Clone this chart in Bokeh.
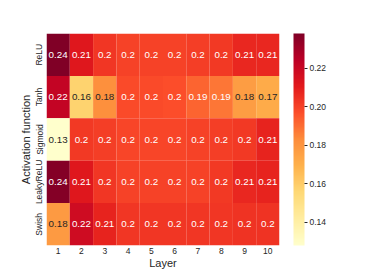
import numpy as np
from bokeh.plotting import figure
from bokeh.models import ColumnDataSource, LinearColorMapper, ColorBar, FixedTicker, PrintfTickFormatter, FactorRange
from bokeh.transform import transform
from bokeh.core.properties import value
from bokeh.embed import file_html
from bokeh.resources import INLINE

layers = ["1", "2", "3", "4", "5", "6", "7", "8", "9", "10"]
activations = ["ReLU", "Tanh", "Sigmoid", "LeakyReLU", "Swish"]
relu = [0.238, 0.212, 0.203, 0.200, 0.200, 0.200, 0.201, 0.202, 0.207, 0.207]
tanh = [0.222, 0.158, 0.182, 0.198, 0.198, 0.197, 0.192, 0.188, 0.177, 0.172]
sigmoid = [0.128, 0.202, 0.201, 0.199, 0.199, 0.199, 0.200, 0.201, 0.202, 0.208]
leaky_relu = [0.237, 0.212, 0.203, 0.200, 0.200, 0.200, 0.200, 0.202, 0.207, 0.208]
swish = [0.178, 0.218, 0.208, 0.203, 0.203, 0.203, 0.203, 0.203, 0.204, 0.204]
cbar_ticks = [0.14, 0.16, 0.18, 0.20, 0.22]
vmin, vmax = 0.128, 0.238

rows = [relu, tanh, sigmoid, leaky_relu, swish]

# YlOrRd colormap interpolated to 256 steps (light -> dark)
base = ["#ffffcc", "#ffeda0", "#fed976", "#feb24c", "#fd8d3c",
        "#fc4e2a", "#e31a1c", "#bd0026", "#800026"]
base_rgb = np.array([[int(c[i:i + 2], 16) for i in (1, 3, 5)] for c in base], dtype=float)
pos = np.linspace(0, 1, len(base))
t = np.linspace(0, 1, 256)
pal_rgb = np.stack([np.interp(t, pos, base_rgb[:, k]) for k in range(3)], axis=1)
palette = ["#%02x%02x%02x" % tuple(int(round(v)) for v in c) for c in pal_rgb]


def color_of(v):
    f = (v - vmin) / (vmax - vmin)
    idx = int(np.clip(f * 256, 0, 255))
    return pal_rgb[idx]


def rel_lum(rgb):
    c = np.asarray(rgb) / 255.0
    c = np.where(c <= 0.03928, c / 12.92, ((c + 0.055) / 1.055) ** 2.4)
    return 0.2126 * c[0] + 0.7152 * c[1] + 0.0722 * c[2]


xs, ys, vals, labels, tcols = [], [], [], [], []
for act, row in zip(activations, rows):
    for lay, v in zip(layers, row):
        xs.append(lay)
        ys.append(act)
        vals.append(v)
        labels.append(format(v, ".2g"))
        tcols.append("#262626" if rel_lum(color_of(v)) > 0.408 else "#ffffff")

src = ColumnDataSource(dict(x=xs, y=ys, v=vals, label=labels, tc=tcols))
mapper = LinearColorMapper(palette=palette, low=vmin, high=vmax)

FONT = "Liberation Sans"

p = figure(frame_width=233, frame_height=212,
           x_range=FactorRange(factors=layers),
           y_range=FactorRange(factors=list(reversed(activations))),
           output_backend="svg", toolbar_location=None,
           min_border_left=46, min_border_top=33, min_border_bottom=26,
           min_border_right=55)

p.rect(x="x", y="y", width=1, height=1, source=src,
       fill_color=transform("v", mapper), line_color=None)
p.text(x="x", y="y", text="label", source=src, text_color="tc",
       text_align="center", text_baseline="middle",
       text_font_size="9.8px", text_font=value(FONT))

p.outline_line_color = None
p.grid.grid_line_color = None
for ax in (p.xaxis, p.yaxis):
    ax.axis_line_color = None
    ax.major_tick_line_color = None
    ax.minor_tick_line_color = None
    ax.major_tick_out = 0
    ax.major_tick_in = 0
    ax.minor_tick_out = 0
    ax.minor_tick_in = 0
    ax.major_label_text_font = FONT
    ax.major_label_text_font_size = "8.5px"
    ax.major_label_text_color = "#262626"
    ax.axis_label_text_font = FONT
    ax.axis_label_text_font_size = "11px"
    ax.axis_label_text_font_style = "normal"
    ax.axis_label_text_color = "#262626"
    ax.major_label_standoff = 2
    ax.axis_label_standoff = 0

p.xaxis.axis_label = "Layer"
p.yaxis.axis_label = "Activation function"
p.yaxis.major_label_orientation = "vertical"

cb = ColorBar(color_mapper=mapper, width=11, height=212,
              ticker=FixedTicker(ticks=cbar_ticks),
              formatter=PrintfTickFormatter(format="%.2f"),
              major_tick_in=0, major_tick_out=3,
              major_tick_line_color="#262626",
              major_label_text_font=FONT,
              major_label_text_font_size="8.5px",
              major_label_text_color="#262626",
              label_standoff=2,
              bar_line_color=None, border_line_color=None,
              background_fill_color=None,
              padding=0, margin=0, location=(14, 0))
p.add_layout(cb, "right")

open("out.html", "w").write(file_html(p, INLINE))
